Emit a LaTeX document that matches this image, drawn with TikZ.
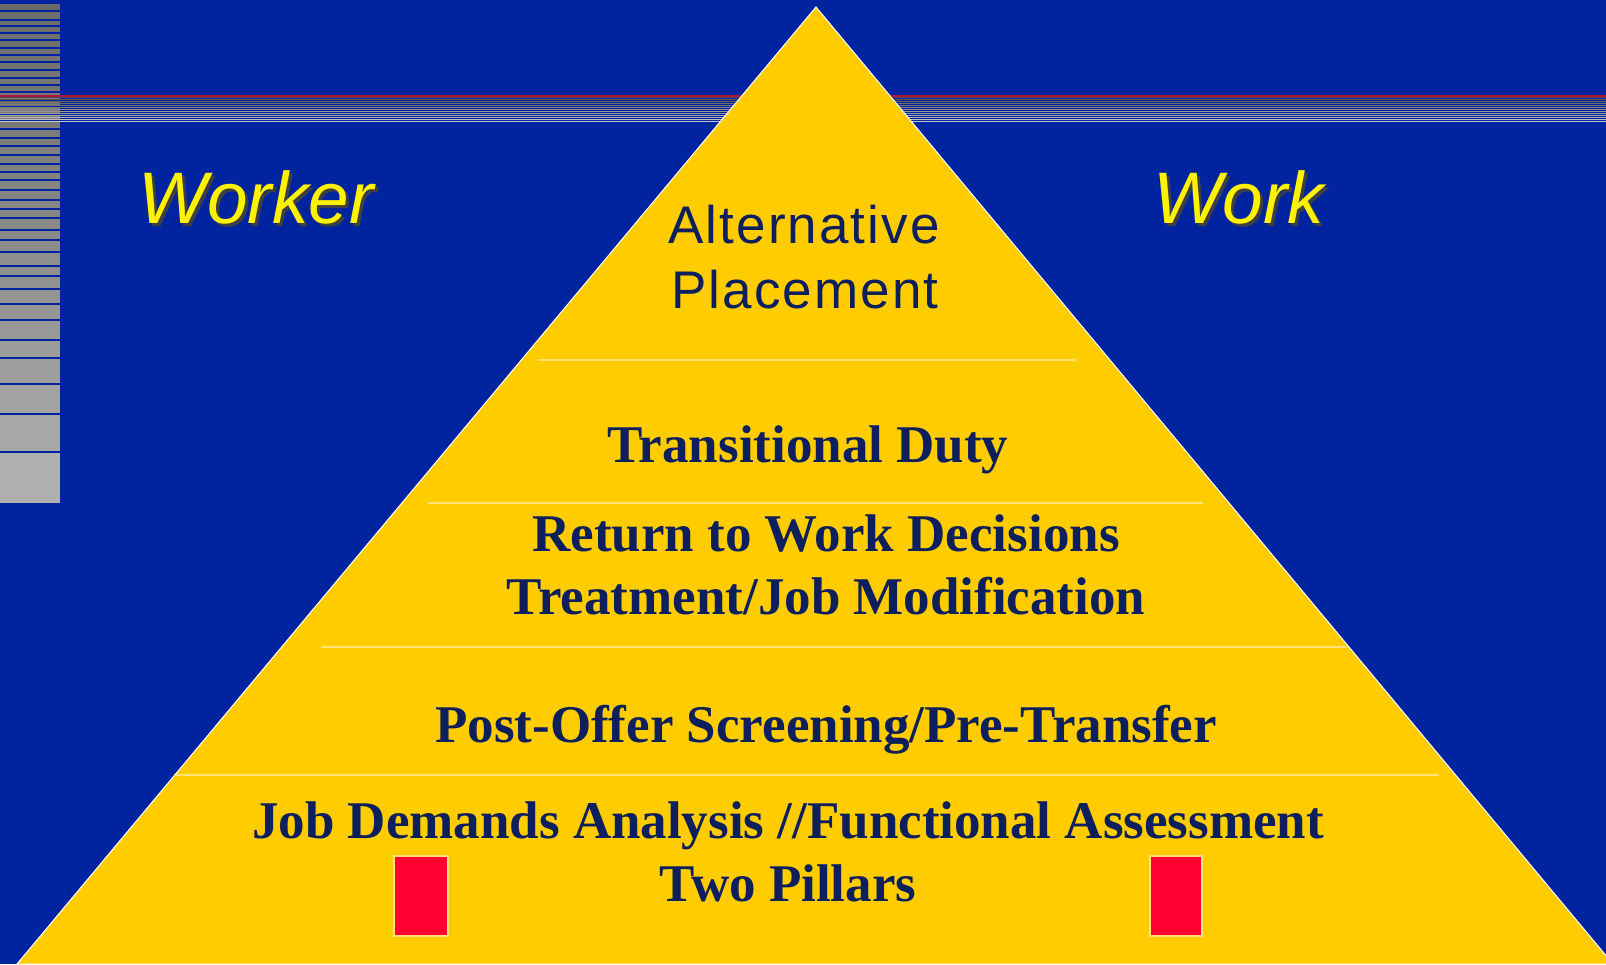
\documentclass[tikz,border=0pt]{standalone}
\usepackage{fontspec}
\setmainfont{Liberation Serif}
\setsansfont{Liberation Sans}
\newfontfamily\spacedsans[LetterSpace=4]{Liberation Sans}
\usepackage{tikz}

\definecolor{bgblue}{HTML}{0024A0}
\definecolor{pyellow}{HTML}{FFCC00}
\definecolor{paleline}{HTML}{FFE27A}
\definecolor{navy}{HTML}{0D1F5C}
\definecolor{pillarred}{HTML}{FF0033}
\definecolor{redrule}{HTML}{B0143C}

\tikzset{
 tier/.style={font=\bfseries\fontsize{53}{60}\selectfont, text=navy, anchor=base, inner sep=0pt},
 apex/.style={font=\spacedsans\fontsize{53}{60}\selectfont, text=navy, anchor=base, inner sep=0pt},
 side/.style={font=\sffamily\itshape\fontsize{73}{80}\selectfont, text=yellow, anchor=base, inner sep=0pt},
 sideshadow/.style={side, text=black!75},
 divider/.style={paleline, line width=1.3pt},
 pillar/.style={fill=pillarred, draw=paleline, line width=1.5pt}
}

\begin{document}
\begin{tikzpicture}[x=1pt,y=-1pt]
 \useasboundingbox (0,0) rectangle (1606,964);
 \clip (0,0) rectangle (1606,964);
 \fill[bgblue] (0,0) rectangle (1606,964);
 % grey bars down the left edge
 \foreach \y [remember=\y as \py (initially 2)] in {10,19,25,32,39,47,54,61,69,77,84,91,99,106,113,120,128,137,145,154,163,171,179,189,199,208,217,229,239,251,265,275,288,303,319,339,357,383,413,451,503} {
  \pgfmathtruncatemacro\shade{42+27*\y/503}
  \fill[white!\shade!black] (0,\py+1.5) rectangle (60,\y);
 }
 % rules across the top
 \draw[redrule, line width=2pt] (0,95.5) -- (1606,95.5);
 \foreach \i in {0,...,12} {
  \pgfmathtruncatemacro\shade{30+4*\i}
  \draw[white!\shade!black, line width=1pt] (0,97.5+2*\i) -- (1606,97.5+2*\i);
 }
 % the pyramid
 \fill[pyellow, draw=white, line width=1pt] (816,7) -- (1613,964) -- (17,964) -- cycle;
 \draw[divider] (538,360) -- (1077,360);
 \draw[divider] (428,503) -- (1203,503);
 \draw[divider] (321,647) -- (1347,647);
 \draw[divider] (174,775) -- (1439,775);

 \node[sideshadow] (workershadow) at (259,226) {Worker};
 \node[side] (worker) at (256,223) {Worker};
 \node[sideshadow] (workshadow) at (1242,226) {Work};
 \node[side] (work) at (1239,223) {Work};

 \node[apex] (alt) at (804,243) {Alternative};
 \node[apex] (place) at (805,308) {Placement};
 \node[tier] (duty) at (808,462) {Transitional Duty};
 \node[tier] (rtw) at (826,551) {Return to Work Decisions};
 \node[tier] (treat) at (826,614) {Treatment/Job Modification};
 \node[tier] (post) at (826,742) {Post-Offer Screening/Pre-Transfer};
 \node[tier] (jda) at (788,838) {Job Demands Analysis //Functional Assessment};
 \node[tier] (pillars) at (788,901) {Two Pillars};

 \draw[pillar] (394,856) rectangle (448,936);
 \draw[pillar] (1150,856) rectangle (1202,936);
\end{tikzpicture}
\end{document}
